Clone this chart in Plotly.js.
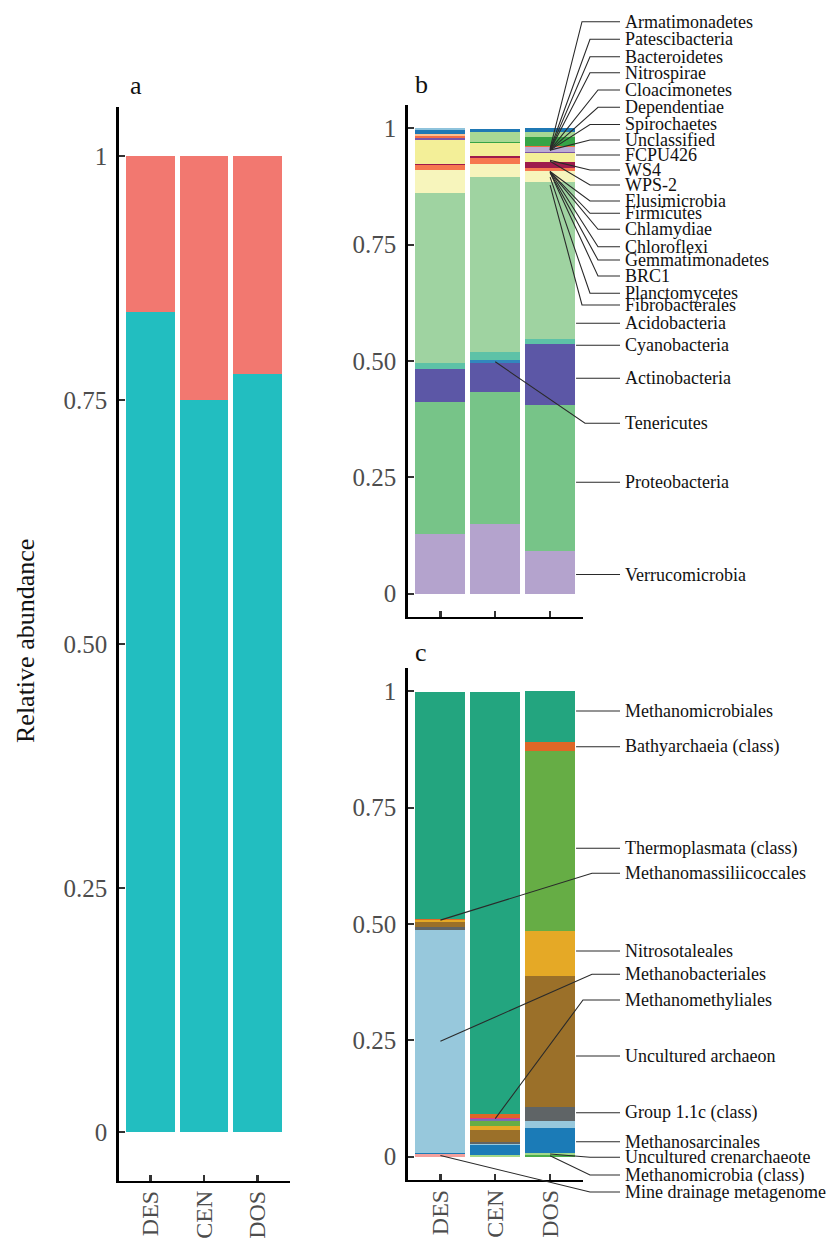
<!DOCTYPE html>
<html>
<head>
<meta charset="utf-8">
<script src="https://cdn.plot.ly/plotly-3.0.1.min.js"></script>
<style>
  html, body { margin: 0; padding: 0; background: #fff; }
  #chart { width: 838px; height: 1238px; }
</style>
</head>
<body>
<div id="chart"></div>
<script>
// ---------- data ----------
const sites = ['DES', 'CEN', 'DOS'];

// (a) domain-level split per site
const bacteria = [0.840, 0.750, 0.777];
const archaea  = [0.160, 0.250, 0.223];

// (b) bacterial phyla, listed from the bottom of the stack upwards
const phyla = ['Verrucomicrobia', 'Proteobacteria', 'Actinobacteria', 'Tenericutes', 'Cyanobacteria',
  'Acidobacteria', 'Fibrobacterales', 'Planctomycetes', 'Chloroflexi', 'Firmicutes', 'WPS-2', 'WS4',
  'FCPU426', 'Dependentiae', 'Cloacimonetes', 'Nitrospirae', 'Bacteroidetes', 'Patescibacteria',
  'Armatimonadetes'];
const phylaDES = [0.128, 0.284, 0.0715, 0, 0.012, 0.365, 0, 0.049, 0.011, 0.0035, 0.0515, 0.003,
  0, 0.005, 0.004, 0, 0, 0.009, 0.004];
const phylaCEN = [0.150, 0.283, 0.062, 0.0065, 0.017, 0.376, 0, 0.028, 0.0135, 0.0035, 0.0285, 0,
  0, 0, 0, 0.0035, 0.020, 0.0075, 0];
const phylaDOS = [0.0915, 0.313, 0.131, 0, 0.011, 0.3375, 0.0015, 0.0235, 0.0065, 0.0115, 0.0195, 0.002,
  0.011, 0.003, 0, 0.0185, 0.011, 0.0085, 0];

// (c) archaeal orders / classes, bottom of the stack upwards
const orders = ['Mine drainage metagenome', 'Methanomicrobia (class)', 'Uncultured crenarchaeote',
  'Methanosarcinales', 'Methanobacteriales', 'Group 1.1c (class)', 'Uncultured archaeon',
  'Nitrosotaleales', 'Thermoplasmata (class)', 'Methanomassiliicoccales', 'Methanomethyliales',
  'Bathyarchaeia (class)', 'Methanomicrobiales'];
const ordersDES = [0.005, 0, 0, 0.0036, 0.479, 0.005, 0.0107, 0.005, 0, 0, 0, 0.003, 0.488];
const ordersCEN = [0, 0, 0.003, 0.023, 0.002, 0.0028, 0.0257, 0.0086, 0.012, 0.003, 0.0036, 0.0086, 0.907];
const ordersDOS = [0, 0.004, 0.0036, 0.0537, 0.015, 0.030, 0.282, 0.0966, 0.387, 0, 0, 0.020, 0.109];

const yTickVals = [0, 0.25, 0.5, 0.75, 1];
const yTickText = ['0', '0.25', '0.50', '0.75', '1'];

// ---------- styles ----------
const domainColors = ['#22bec0', '#f27870'];
const phylaColors = ['#b4a3cd', '#77c488', '#5c57a6', '#3287bd', '#5dc2a7', '#9fd3a1', '#c9e6a4',
  '#f7f5bc', '#f6784f', '#9e1b4c', '#f3ef98', '#7b56a6', '#bcacd4', '#f46d43', '#fdbf8f', '#37a447',
  '#a8d894', '#1f78b4', '#8ec3dc'];
const orderColors = ['#f4a09c', '#4aae4a', '#a3d88a', '#1b7bb7', '#97c8dc', '#5f6466', '#9b7029',
  '#e5a926', '#66ad45', '#7570b3', '#e2378f', '#de6727', '#23a57f'];

const SERIF = '"Liberation Serif", "Times New Roman", serif';
const W = 838, H = 1238;
const XR = [0.4, 3.6], YR = [-0.05, 1.05];
const frame = {
  a: {x0: 118.5, x1: 289.5, yt: 107, yb: 1181},
  b: {x0: 407.5, x1: 583, yt: 105, yb: 617},
  c: {x0: 407.5, x1: 583, yt: 668, yb: 1180}
};
const BAR_W = 0.91;

// pixel position of a data point inside a panel (same range/domain as the axes below)
function toPx(p, xv, yv) {
  const f = frame[p];
  return [f.x0 + (xv - XR[0]) / (XR[1] - XR[0]) * (f.x1 - f.x0),
          f.yb - (yv - YR[0]) / (YR[1] - YR[0]) * (f.yb - f.yt)];
}
const fx = x => x / W;
const fy = y => 1 - y / H;

// middle of one taxon's segment in one site's stacked bar
function segMid(names, columns, taxon, siteIdx) {
  let cum = 0;
  const col = columns[siteIdx];
  for (let i = 0; i < names.length; i++) {
    if (names[i] === taxon) return cum + col[i] / 2;
    cum += col[i];
  }
  return cum;
}

// ---------- traces ----------
const xs = [1, 2, 3];
const traces = [];
function addStack(names, columns, colors, xa, ya) {
  names.forEach((n, i) => {
    traces.push({
      type: 'bar', name: n, x: xs, y: columns.map(c => c[i]), width: BAR_W,
      xaxis: xa, yaxis: ya, marker: {color: colors[i], line: {width: 0}},
      hoverinfo: 'skip', showlegend: false
    });
  });
}
addStack(['Bacteria', 'Archaea'], [[bacteria[0], archaea[0]], [bacteria[1], archaea[1]], [bacteria[2], archaea[2]]],
  domainColors, 'x', 'y');
addStack(phyla, [phylaDES, phylaCEN, phylaDOS], phylaColors, 'x2', 'y2');
addStack(orders, [ordersDES, ordersCEN, ordersDOS], orderColors, 'x3', 'y3');

// ---------- axes ----------
function xAxis(p, anchor, showLabels) {
  const f = frame[p];
  return {
    domain: [fx(f.x0), fx(f.x1)], range: XR, anchor: anchor,
    tickmode: 'array', tickvals: xs, ticktext: sites, showticklabels: showLabels,
    ticks: 'inside', ticklen: 6, tickwidth: 2.2, tickcolor: '#333',
    showline: true, linecolor: '#000', linewidth: 2.2,
    showgrid: false, zeroline: false, tickangle: -90, ticklabelstandoff: -2,
    tickfont: {family: SERIF, size: 24, color: '#4d4d4d'}, fixedrange: true
  };
}
function yAxis(p, anchor) {
  const f = frame[p];
  return {
    domain: [fy(f.yb), fy(f.yt)], range: YR, anchor: anchor,
    tickmode: 'array', tickvals: yTickVals, ticktext: yTickText,
    ticks: 'inside', ticklen: 6, tickwidth: 2.2, tickcolor: '#333',
    showline: true, linecolor: '#000', linewidth: 2.2,
    showgrid: false, zeroline: false, ticklabelstandoff: 4,
    tickfont: {family: SERIF, size: 25, color: '#4d4d4d'}, fixedrange: true
  };
}

// ---------- leader labels ----------
// [text, label y (px), elbow x (px) or null for a straight leader, anchor value or site name]
const labelsB = [
  ['Armatimonadetes', 21.7, 582, 0.957],
  ['Patescibacteria', 39.3, 590, 0.955],
  ['Bacteroidetes', 56.7, 590, 0.953],
  ['Nitrospirae', 72.7, 590, 0.953],
  ['Cloacimonetes', 90, 598, 0.953],
  ['Dependentiae', 107.3, 598, 0.953],
  ['Spirochaetes', 124.5, 590, 0.953],
  ['Unclassified', 140, 590, 0.953],
  ['FCPU426', 155, null],
  ['WS4', 170, 590, 0.931],
  ['WPS-2', 185, 590, 0.929],
  ['Elusimicrobia', 201, 590, 0.907],
  ['Firmicutes', 213.3, 590, 0.907],
  ['Chlamydiae', 229.3, 598, 0.907],
  ['Chloroflexi', 246.7, 598, 0.907],
  ['Gemmatimonadetes', 260, 598, 0.905],
  ['BRC1', 276, 598, 0.905],
  ['Planctomycetes', 293.3, 590, 0.895],
  ['Fibrobacterales', 305, 582, 0.878],
  ['Acidobacteria', 323.3, null],
  ['Cyanobacteria', 345.3, null],
  ['Actinobacteria', 378.3, null],
  ['Tenericutes', 423.3, 585, 'CEN'],
  ['Proteobacteria', 482.3, null],
  ['Verrucomicrobia', 574.5, null]
];
const labelsC = [
  ['Methanomicrobiales', 711, null],
  ['Bathyarchaeia (class)', 746.7, null],
  ['Thermoplasmata (class)', 848.3, null],
  ['Methanomassiliicoccales', 873.3, 592, 'DES'],
  ['Nitrosotaleales', 951, null],
  ['Methanobacteriales', 974.3, 592, 'DES'],
  ['Methanomethyliales', 1000, 583, 'CEN'],
  ['Uncultured archaeon', 1056, null],
  ['Group 1.1c (class)', 1112.7, null],
  ['Methanosarcinales', 1141.7, null],
  ['Uncultured crenarchaeote', 1157.3, 590, 'DOS'],
  ['Methanomicrobia (class)', 1175, 590, 'DOS'],
  ['Mine drainage metagenome', 1192, 590, 'DES']
];

const LEAD_END = 620, TEXT_X = 623;
const shapes = [];
const annotations = [];

function addLeaders(p, list, names, columns) {
  list.forEach(([text, ly, ex, anchor]) => {
    let path;
    if (ex === null) {
      const edge = toPx(p, 3 + BAR_W / 2, 0)[0] + 1;
      path = `M ${fx(edge)},${fy(ly)} L ${fx(LEAD_END)},${fy(ly)}`;
    } else {
      let xi = 3, val = anchor;
      if (typeof anchor === 'string') {
        const si = sites.indexOf(anchor);
        xi = si + 1;
        val = segMid(names, columns, text, si);
      }
      const [hx, hy] = toPx(p, xi, val);
      path = `M ${fx(hx)},${fy(hy)} L ${fx(ex)},${fy(ly)} L ${fx(LEAD_END)},${fy(ly)}`;
    }
    shapes.push({type: 'path', xref: 'paper', yref: 'paper', path: path,
      line: {color: '#2a2a2a', width: 1.1}, layer: 'above'});
    annotations.push({xref: 'paper', yref: 'paper', x: fx(TEXT_X), y: fy(ly),
      xanchor: 'left', yanchor: 'middle', showarrow: false, text: text,
      font: {family: SERIF, size: 18, color: '#111'}});
  });
}
addLeaders('b', labelsB, phyla, [phylaDES, phylaCEN, phylaDOS]);
addLeaders('c', labelsC, orders, [ordersDES, ordersCEN, ordersDOS]);

// panel letters and shared y title
[['a', 136, 86], ['b', 421, 84], ['c', 421, 652]].forEach(([t, x, y]) => {
  annotations.push({xref: 'paper', yref: 'paper', x: fx(x), y: fy(y), xanchor: 'center', yanchor: 'middle',
    showarrow: false, text: t, font: {family: SERIF, size: 26, color: '#111'}});
});
annotations.push({xref: 'paper', yref: 'paper', x: fx(25), y: fy(641), xanchor: 'center', yanchor: 'middle',
  showarrow: false, text: 'Relative abundance', textangle: -90,
  font: {family: SERIF, size: 26, color: '#111'}});

const layout = {
  width: W, height: H, margin: {l: 0, r: 0, t: 0, b: 0},
  paper_bgcolor: '#fff', plot_bgcolor: 'rgba(0,0,0,0)',
  barmode: 'stack', showlegend: false,
  font: {family: SERIF, color: '#4d4d4d'},
  xaxis: xAxis('a', 'y', true), yaxis: yAxis('a', 'x'),
  xaxis2: xAxis('b', 'y2', false), yaxis2: yAxis('b', 'x2'),
  xaxis3: xAxis('c', 'y3', true), yaxis3: yAxis('c', 'x3'),
  shapes: shapes, annotations: annotations
};

Plotly.newPlot('chart', traces, layout, {staticPlot: true, displayModeBar: false});
</script>
</body>
</html>
